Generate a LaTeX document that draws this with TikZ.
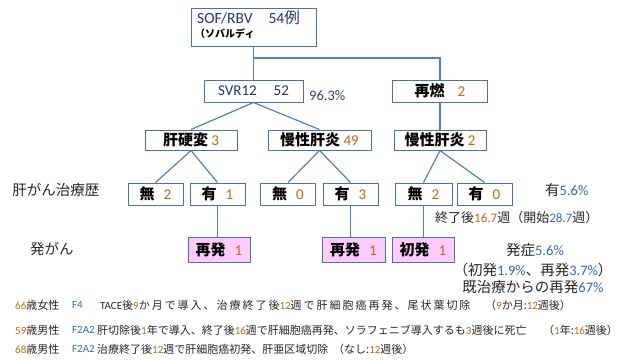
\documentclass[tikz,border=0pt]{standalone}
\usepackage{fontspec}
\setmainfont{Carlito}
\newfontfamily\jp{Noto Sans CJK JP}
\newfontfamily\jpw[LetterSpace=18]{Noto Sans CJK JP}
\definecolor{bx}{HTML}{4A72A8}
\definecolor{ln}{HTML}{4F81BD}
\definecolor{onum}{HTML}{C8650F}
\definecolor{bnum}{HTML}{2E6DB4}
\definecolor{navy}{HTML}{1F3864}
\definecolor{pk}{HTML}{FFCCFF}
\definecolor{txt}{HTML}{262626}
\newcommand\JB[1]{{\jp\bfseries #1}}
\newcommand\jn[1]{{\jp #1}}
\newcommand\jw[1]{{\jpw #1}}
\newcommand\on[1]{\textcolor{onum}{#1}}
\newcommand\bn[1]{\textcolor{bnum}{#1}}
\tikzset{
  box/.style={draw=bx, line width=1pt, fill=white, minimum height=22pt, inner sep=0pt,
    font=\fontsize{15}{15}\selectfont},
  pbox/.style={box, fill=pk, minimum height=25pt},
  conn/.style={draw=ln, line width=1.2pt},
  lab/.style={inner sep=0pt, text=txt, font=\fontsize{14.5}{17}\selectfont},
  small/.style={inner sep=0pt, anchor=west, text=txt, font=\fontsize{11}{11}\selectfont},
}
\begin{document}
\begin{tikzpicture}[x=1pt,y=-1pt]
\useasboundingbox (0,0) rectangle (624,359);
% top box
\node[box, minimum width=125pt, minimum height=38pt] (top) at (253.5,27) {};
\node[inner sep=0pt, anchor=west, text=navy, font=\fontsize{15.5}{15.5}\selectfont] (toptxt) at (197,18) {SOF/RBV\hspace{16pt}54\jn{例}};
\node[inner sep=0pt, anchor=west, font=\fontsize{10}{10}\selectfont] (topsub) at (195,34) {\JB{（ソバルディ}};
% level 2
\node[box, minimum width=99pt] (svr) at (253.5,91) {\textcolor{navy}{SVR12\hspace{17pt}52}};
\node[lab, anchor=west, text=navy!80!gray] (p963) at (309,96) {96.3\%};
\node[box, minimum width=95pt] (sai) at (440,91) {\JB{再燃}\hspace{13pt}\on{2}};
% level 3
\node[box, minimum width=92pt, minimum height=20pt] (kh) at (191,140) {\JB{肝硬変} \on{3}};
\node[box, minimum width=103pt, minimum height=20pt] (mc1) at (319.5,140) {\JB{慢性肝炎} \on{49}};
\node[box, minimum width=92pt, minimum height=20pt] (mc2) at (440,140) {\JB{慢性肝炎} \on{2}};
% level 4
\node[box, minimum width=55pt] (n1) at (155.5,194) {\JB{無}\hspace{9pt}\on{2}};
\node[box, minimum width=55pt] (y1) at (217.5,194) {\JB{有}\hspace{9pt}\on{1}};
\node[box, minimum width=55pt] (n2) at (288,194) {\JB{無}\hspace{9pt}\on{0}};
\node[box, minimum width=55pt] (y2) at (350.5,194) {\JB{有}\hspace{9pt}\on{3}};
\node[box, minimum width=57pt] (n3) at (423.5,194) {\JB{無}\hspace{9pt}\on{2}};
\node[box, minimum width=55pt] (y3) at (484.5,194) {\JB{有}\hspace{9pt}\on{0}};
% level 5
\node[pbox, minimum width=62pt] (r1) at (219,250) {\JB{再発}\hspace{9pt}\on{1}};
\node[pbox, minimum width=63pt] (r2) at (353.5,250) {\JB{再発}\hspace{9pt}\on{1}};
\node[pbox, minimum width=62pt] (s1) at (423,250) {\JB{初発}\hspace{9pt}\on{1}};
% connectors
\coordinate (j) at (253.5,58);
\draw[conn] (top.south) -- (svr.north);
\draw[conn] (j) -- (j -| sai.north) -- (sai.north);
\draw[conn] (sai.south) -- (mc2.north);
\draw[conn] (svr.south) -- (kh.north);
\draw[conn] (svr.south) -- (mc1.north);
\draw[conn] (kh.south) -- (n1.north);
\draw[conn] (kh.south) -- (y1.north);
\draw[conn] (mc1.south) -- (n2.north);
\draw[conn] (mc1.south) -- (y2.north);
\draw[conn] (mc2.south) -- (n3.north);
\draw[conn] (mc2.south) -- (y3.north);
\draw[conn] (y1.south) -- (y1.south |- r1.north);
\draw[conn] (y2.south) -- (y2.south |- r2.north);
\draw[conn] (n3.south) -- (n3.south |- s1.north);
% side labels
\node[lab] (l1) at (56,190) {\jn{肝がん治療歴}};
\node[lab] (l2) at (52,249) {\jn{発がん}};
\node[lab, anchor=west] (a1) at (545,190) {\jn{有}\bn{5.6\%}};
\node[lab, anchor=west, font=\fontsize{13}{13}\selectfont] (a2) at (435,218) {\jn{終了後}\on{16.7}\jn{週（開始}\bn{28.7}\jn{週）}};
\node[lab] (a3) at (535,250) {\jn{発症}\bn{5.6\%}};
\node[lab] (a4) at (533,270) {\jn{（初発}\bn{1.9\%}\jn{、再発}\bn{3.7\%}\jn{）}};
\node[lab] (a5) at (533,287) {\jn{既治療からの再発}\bn{67\%}};
% bottom lines
\node[small] (b1a) at (15,305) {\on{66}\jn{歳女性}};
\node[small] (b1b) at (72,305) {\bn{F4}};
\node[small] (b1c) at (100,305) {TACE\jw{後}\on{9}\jw{か月で導入、治療終了後}\on{12}\jw{週で肝細胞癌再発、尾状葉切除}};
\node[small] (b1d) at (485,305) {\jn{（}\on{9}\jn{か月:}\on{12}\jn{週後）}};
\node[small] (b2a) at (15,330) {\on{59}\jn{歳男性}};
\node[small] (b2b) at (72,330) {\bn{F2A2}};
\node[small] (b2c) at (97,330) {\jn{肝切除後}\on{1}\jn{年で導入、終了後}\on{16}\jn{週で肝細胞癌再発、ソラフェニブ導入するも}\on{3}\jn{週後に死亡}};
\node[small] (b2d) at (543,330) {\jn{（}\on{1}\jn{年:}\on{16}\jn{週後）}};
\node[small] (b3a) at (15,349) {\on{68}\jn{歳男性}};
\node[small] (b3b) at (72,349) {\bn{F2A2}};
\node[small] (b3c) at (97,349) {\jn{治療終了後}\on{12}\jn{週で肝細胞癌初発、肝亜区域切除}};
\node[small] (b3d) at (333,349) {\jn{（なし:}\on{12}\jn{週後）}};
\end{tikzpicture}
\end{document}
